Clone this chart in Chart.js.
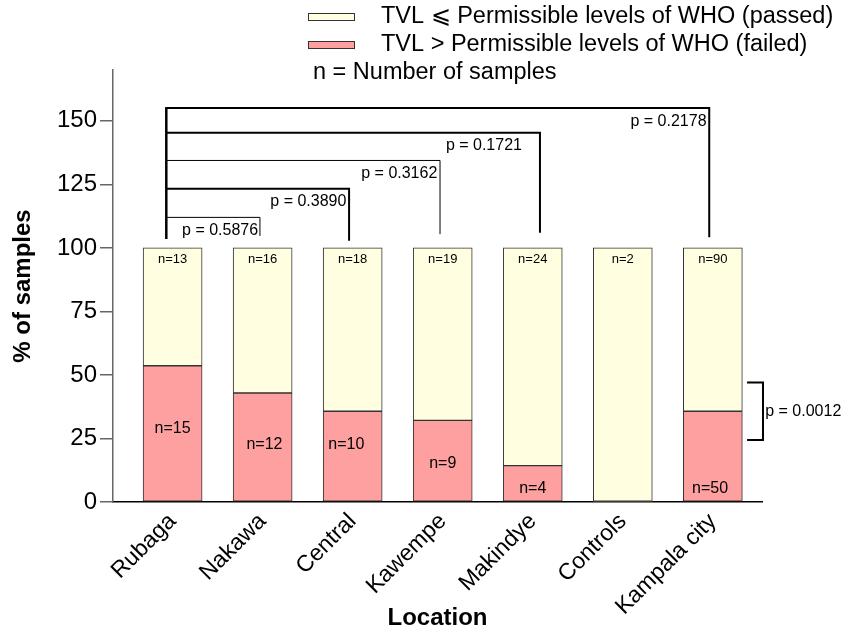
<!DOCTYPE html>
<html><head><meta charset="utf-8">
<script src="https://cdn.jsdelivr.net/npm/chart.js@4"></script>
<style>html,body{margin:0;padding:0;background:#fff;}#wrap{width:847px;height:633px;}</style>
</head><body><div id="wrap"><canvas id="c" width="847" height="633"></canvas></div>
<script>
// ---- data ----
const categories = ['Rubaga', 'Nakawa', 'Central', 'Kawempe', 'Makindye', 'Controls', 'Kampala city'];
const failedPct = [53.6, 42.9, 35.7, 32.1, 14.3, 0, 35.7];
const passedPct = [46.4, 57.1, 64.3, 67.9, 85.7, 100, 64.3];
const passedN = ['n=13', 'n=16', 'n=18', 'n=19', 'n=24', 'n=2', 'n=90'];
const failedN = ['n=15', 'n=12', 'n=10', 'n=9', 'n=4', '', 'n=50'];
const yTicks = [0, 25, 50, 75, 100, 125, 150];

// pairwise comparisons (Rubaga vs others)
const bracketText = ['p = 0.5876', 'p = 0.3890', 'p = 0.3162', 'p = 0.1721', 'p = 0.2178'];
const bracketTo = [1, 2, 3, 4, 6];
const bracketLevel = [112, 123.3, 134.4, 145.3, 155];
const bracketDrop = [104.7, 102.8, 105.4, 106, 104.2];
const sideText = 'p = 0.0012';
const sideRange = [24.4, 47];

const legendPassed = 'TVL \u2A7D Permissible levels of WHO (passed)';
const legendFailed = 'TVL > Permissible levels of WHO (failed)';
const legendNote = 'n = Number of samples';

const FONT = '"Liberation Sans", Arial, Helvetica, sans-serif';
const PASS_COLOR = '#FFFEE0';
const FAIL_COLOR = '#FFA0A0';

// annotation layout (index-unit nudges, styles)
const bracketEndNudge = [-0.03, -0.04, -0.03, 0.08, -0.04];
const bracketTextNudge = [-0.05, -0.07, -0.06, -0.12, -0.07];
const bracketWidth = [1, 2, 1, 2, 2];
const failedLabelNudge = [0, 0.02, -0.07, 0, 0, 0, -0.03];
const failedLabelAt = [28.8, 22.5, 22.5, 15.3, 5.4, 0, 5.4];
const passedLabelAt = 95.4;

const annot = {
  id: 'annot',
  afterDatasetsDraw(chart) {
    const ctx = chart.ctx;
    const xs = chart.scales.x, ys = chart.scales.y;
    const X = v => xs.getPixelForValue(v), Y = v => ys.getPixelForValue(v);
    ctx.save();
    ctx.fillStyle = '#000';
    ctx.textAlign = 'center';
    ctx.textBaseline = 'middle';
    ctx.font = '13px ' + FONT;
    passedN.forEach((t, i) => ctx.fillText(t, X(i), Y(passedLabelAt)));
    ctx.font = '16px ' + FONT;
    failedN.forEach((t, i) => { if (t) ctx.fillText(t, X(i + failedLabelNudge[i]), Y(failedLabelAt[i])); });

    // brackets
    ctx.strokeStyle = '#000';
    ctx.lineCap = 'butt';
    const x0 = X(-0.07);
    const order = [0, 2, 1, 3, 4];
    order.forEach(k => {
      const xe = X(bracketTo[k] + bracketEndNudge[k]);
      const yl = Y(bracketLevel[k]);
      ctx.lineWidth = bracketWidth[k];
      ctx.beginPath();
      ctx.moveTo(x0, yl);
      ctx.lineTo(xe, yl);
      ctx.lineTo(xe, Y(bracketDrop[k]));
      ctx.stroke();
    });
    ctx.lineWidth = 2.5;
    ctx.beginPath();
    ctx.moveTo(x0, Y(bracketLevel[4]) - 1);
    ctx.lineTo(x0, Y(103.5));
    ctx.stroke();
    ctx.font = '16px ' + FONT;
    ctx.textAlign = 'right';
    bracketText.forEach((t, k) => {
      ctx.fillText(t, X(bracketTo[k] + bracketTextNudge[k]), Y(bracketLevel[k]) + 13);
    });

    // side bracket
    const xb = X(6.557), xt = X(6.38);
    ctx.lineWidth = 2;
    ctx.beginPath();
    ctx.moveTo(xt, Y(sideRange[1]));
    ctx.lineTo(xb, Y(sideRange[1]));
    ctx.lineTo(xb, Y(sideRange[0]));
    ctx.lineTo(xt, Y(sideRange[0]));
    ctx.stroke();
    ctx.textAlign = 'left';
    ctx.fillText(sideText, X(6.582), Y((sideRange[0] + sideRange[1]) / 2));

    // legend
    ctx.font = '23.5px ' + FONT;
    ctx.lineWidth = 1;
    ctx.strokeStyle = '#333';
    const rows = [[legendPassed, PASS_COLOR, 17], [legendFailed, FAIL_COLOR, 45]];
    rows.forEach(([t, c, y]) => {
      ctx.fillStyle = c;
      ctx.fillRect(308, y - 4, 47, 8);
      ctx.strokeRect(308.5, y - 3.5, 46, 7);
      ctx.fillStyle = '#000';
      ctx.fillText(t, 381, y);
    });
    ctx.fillText(legendNote, 313, 73);
    ctx.restore();
  }
};

const barBorder = c => (c.raw && c.raw.y === 0 ? 0 : 1);

new Chart(document.getElementById('c'), {
  type: 'bar',
  data: {
    datasets: [
      { label: legendFailed, data: failedPct.map((v, i) => ({ x: i, y: v })), backgroundColor: FAIL_COLOR,
        borderColor: '#333', borderWidth: barBorder, borderSkipped: false, barThickness: 59 },
      { label: legendPassed, data: passedPct.map((v, i) => ({ x: i, y: v })), backgroundColor: PASS_COLOR,
        borderColor: '#333', borderWidth: barBorder, borderSkipped: false, barThickness: 59 }
    ]
  },
  options: {
    responsive: false,
    animation: false,
    layout: { padding: { top: 70, right: 85, left: 0, bottom: 0 } },
    plugins: { legend: { display: false }, tooltip: { enabled: false } },
    scales: {
      x: {
        type: 'linear', stacked: true, min: -0.662, max: 6.546, offset: false,
        afterBuildTicks: s => { s.ticks = categories.map((c, i) => ({ value: i })); },
        afterFit: s => { s.height = 131; },
        grid: { display: false, drawTicks: false },
        border: { display: true, color: '#000', width: 1.5 },
        ticks: { autoSkip: false, minRotation: 45, maxRotation: 45, padding: 6, color: '#000',
          font: { family: FONT, size: 23 }, callback: v => categories[v] ?? '' },
        title: { display: true, text: 'Location', color: '#000',
          font: { family: FONT, size: 24, weight: 'bold' }, padding: { top: 0, bottom: 0 } }
      },
      y: {
        stacked: true, min: 0, max: 170,
        afterBuildTicks: s => { s.ticks = yTicks.map(v => ({ value: v })); },
        afterFit: s => { s.width = 113; },
        grid: { drawOnChartArea: false, drawTicks: true, tickLength: 13, color: '#666', lineWidth: 1.5 },
        border: { display: true, color: '#666', width: 1.5 },
        ticks: { padding: 3, color: '#000', font: { family: FONT, size: 24 } },
        title: { display: true, text: '% of samples', color: '#000',
          font: { family: FONT, size: 24, weight: 'bold' }, padding: { top: 9, bottom: 0 } }
      }
    }
  },
  plugins: [annot]
});
</script>
</body></html>
